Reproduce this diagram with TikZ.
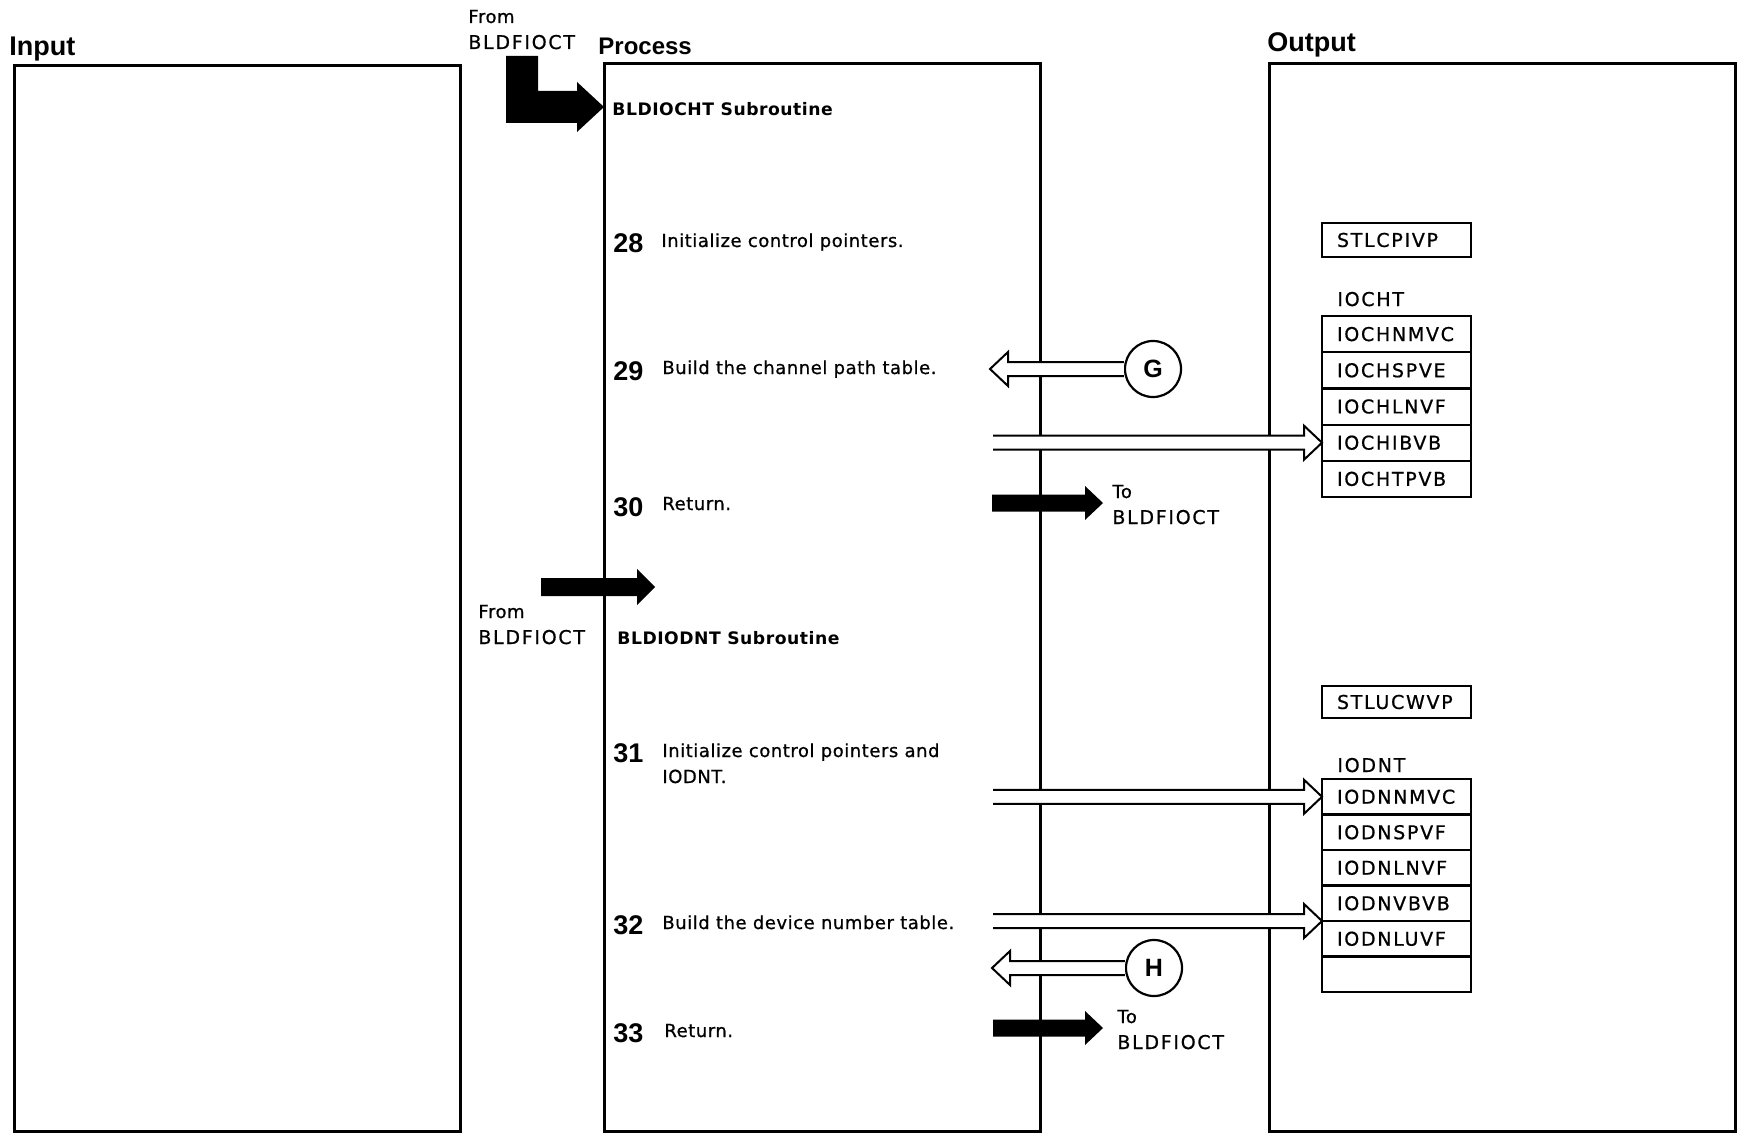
\documentclass[tikz,border=0pt]{standalone}
\usepackage{fontspec}
\setmainfont{DejaVu Sans}[LetterSpace=3]
\newfontfamily\stepfont{DejaVu Sans}[LetterSpace=3, FakeBold=0.8]
\newfontfamily\capsfont{DejaVu Sans}[LetterSpace=9, FakeBold=0.8]
\newfontfamily\headfont{Liberation Sans}
\usetikzlibrary{calc, positioning}

\tikzset{
  frame/.style={draw, line width=1.5pt},
  head/.style={font=\headfont\bfseries\fontsize{12}{14}\selectfont, anchor=base west, inner sep=0pt},
  txt/.style={font=\stepfont\fontsize{9}{11}\selectfont, anchor=base west, inner sep=0pt},
  capt/.style={font=\capsfont\fontsize{9.5}{11}\selectfont, anchor=base west, inner sep=0pt},
  sub/.style={font=\bfseries\fontsize{8.6}{10}\selectfont, anchor=base west, inner sep=0pt},
  num/.style={font=\headfont\bfseries\fontsize{13.5}{15}\selectfont, anchor=base west, inner sep=0pt},
  field/.style={draw, line width=1.1pt, outer sep=0pt, inner xsep=7.5pt, inner ysep=0pt,
    text width=59.5pt, align=left, minimum height=18.1pt, font=\capsfont\fontsize{9.5}{11}\selectfont},
  dnrow/.style={minimum height=17.75pt},
  conn/.style={draw, circle, line width=1.1pt, fill=white, minimum size=28pt, inner sep=0pt,
    font=\headfont\bfseries\fontsize{12.5}{14}\selectfont},
  hollow/.style={draw, fill=white, line width=1pt, line join=miter}
}

% black arrow, from #1 to #2, half bar #3, half head #4
\newcommand{\fatarrow}[4]{%
  \fill let \p1=(#1), \p2=(#2) in
    (\x1,{\y2+#3}) -- ({\x2-9pt},{\y2+#3}) -- ({\x2-9pt},{\y2+#4}) -- (\x2,\y2)
    -- ({\x2-9pt},{\y2-#4}) -- ({\x2-9pt},{\y2-#3}) -- (\x1,{\y2-#3}) -- cycle;}
% open arrows, pointing right / left
\newcommand{\rarrow}[2]{%
  \draw[hollow] let \p1=(#1), \p2=(#2) in
    (\x1,{\y2+3.5pt}) -- ({\x2-9pt},{\y2+3.5pt}) -- ({\x2-9pt},{\y2+8.5pt}) -- (\x2,\y2)
    -- ({\x2-9pt},{\y2-8.5pt}) -- ({\x2-9pt},{\y2-3.5pt}) -- (\x1,{\y2-3.5pt});}
\newcommand{\larrow}[2]{%
  \draw[hollow] let \p1=(#1), \p2=(#2) in
    (\x1,{\y2+3.5pt}) -- ({\x2+9pt},{\y2+3.5pt}) -- ({\x2+9pt},{\y2+8.5pt}) -- (\x2,\y2)
    -- ({\x2+9pt},{\y2-8.5pt}) -- ({\x2+9pt},{\y2-3.5pt}) -- (\x1,{\y2-3.5pt});}

\begin{document}
\begin{tikzpicture}[x=0.5pt, y=-0.5pt]
	\useasboundingbox (0,0) rectangle (1738,1134);

	% the three columns
	\draw[frame] (14,66) rectangle (460,1131);
	\draw[frame] (604,64) rectangle (1040,1131);
	\draw[frame] (1269,64) rectangle (1735,1131);

	\node[head, font=\headfont\bfseries\fontsize{13.5}{15}\selectfont] (hin) at (9,56) {Input};
	\node[head] (hproc) at (598,55) {Process};
	\node[head, font=\headfont\bfseries\fontsize{13.5}{15}\selectfont] (hout) at (1267,52) {Output};

	% entry into BLDIOCHT
	\node[txt] (from1) at (468,23) {From};
	\node[capt] (src1) at (468,49) {BLDFIOCT};
	\coordinate (in1) at (522,56);
	\coordinate (tip1) at (604,107);
	\fill let \p1=(in1), \p2=(tip1) in
		({\x1-8pt},\y1) -- ({\x1+8pt},\y1) -- ({\x1+8pt},{\y2+8pt}) -- ({\x2-13.5pt},{\y2+8pt})
		-- ({\x2-13.5pt},{\y2+12.5pt}) -- (\x2,\y2) -- ({\x2-13.5pt},{\y2-12.5pt})
		-- ({\x2-13.5pt},{\y2-8pt}) -- ({\x1-8pt},{\y2-8pt}) -- cycle;
	\node[sub] (bldiocht) at (612,116) {BLDIOCHT Subroutine};

	\node[num] (n28) at (613,252) {28};
	\node[txt] (s28) at (661,247) {Initialize control pointers.};
	\node[num] (n29) at (613,380) {29};
	\node[txt] (s29) at (662,374) {Build the channel path table.};
	\node[num] (n30) at (613,516) {30};
	\node[txt] (s30) at (662,510) {Return.};

	% return to BLDFIOCT
	\coordinate (ret1) at (992,503);
	\coordinate (ret1tip) at (1103,503);
	\fatarrow{ret1}{ret1tip}{4.25pt}{8.5pt}
	\node[txt] (to1) at (1112,498) {To};
	\node[capt] (dst1) at (1112,524) {BLDFIOCT};

	% entry into BLDIODNT
	\coordinate (in2) at (541,587);
	\coordinate (tip2) at (655,587);
	\fatarrow{in2}{tip2}{4.5pt}{9pt}
	\node[txt] (from2) at (478,618) {From};
	\node[capt] (src2) at (478,644) {BLDFIOCT};
	\node[sub] (bldiodnt) at (617,644) {BLDIODNT Subroutine};

	\node[num] (n31) at (613,762) {31};
	\node[txt] (s31) at (662,757) {Initialize control pointers and};
	\node[txt] (s31b) at (662,783) {IODNT.};
	\node[num] (n32) at (613,934) {32};
	\node[txt] (s32) at (662,929) {Build the device number table.};
	\node[num] (n33) at (613,1042) {33};
	\node[txt] (s33) at (664,1037) {Return.};

	\coordinate (ret2) at (993,1028);
	\coordinate (ret2tip) at (1103,1028);
	\fatarrow{ret2}{ret2tip}{4.25pt}{8.5pt}
	\node[txt] (to2) at (1117,1023) {To};
	\node[capt] (dst2) at (1117,1049) {BLDFIOCT};

	% output areas
	\node[field, minimum height=17pt] (stlcpivp) at (1396.5,240) {STLCPIVP};
	\node[capt] (iocht) at (1337,306) {IOCHT};
	\node[field, anchor=north] (ch1) at (1396.5,316) {IOCHNMVC};
	\node[field, below=0pt of ch1] (ch2) {IOCHSPVE};
	\node[field, below=0pt of ch2] (ch3) {IOCHLNVF};
	\node[field, below=0pt of ch3] (ch4) {IOCHIBVB};
	\node[field, below=0pt of ch4] (ch5) {IOCHTPVB};

	\node[field, minimum height=16pt] (stlucwvp) at (1396.5,702) {STLUCWVP};
	\node[capt] (iodnt) at (1337,772) {IODNT};
	\node[field, dnrow, anchor=north] (dn1) at (1396.5,779) {IODNNMVC};
	\node[field, dnrow, below=0pt of dn1] (dn2) {IODNSPVF};
	\node[field, dnrow, below=0pt of dn2] (dn3) {IODNLNVF};
	\node[field, dnrow, below=0pt of dn3] (dn4) {IODNVBVB};
	\node[field, dnrow, below=0pt of dn4] (dn5) {IODNLUVF};
	\node[field, dnrow, below=0pt of dn5] (dn6) {};

	% data flow
	\node[conn] (g) at (1153,369) {G};
	\coordinate (gtip) at (990,369);
	\larrow{g.west}{gtip}
	\coordinate (out29) at (993,441);
	\rarrow{out29}{ch4.west}

	\coordinate (out31) at (993,801);
	\rarrow{out31}{dn1.west}
	\coordinate (out32) at (993,921);
	\rarrow{out32}{dn4.south west}
	\node[conn] (h) at (1154,968) {H};
	\coordinate (htip) at (992,968);
	\larrow{h.west}{htip}
\end{tikzpicture}
\end{document}
